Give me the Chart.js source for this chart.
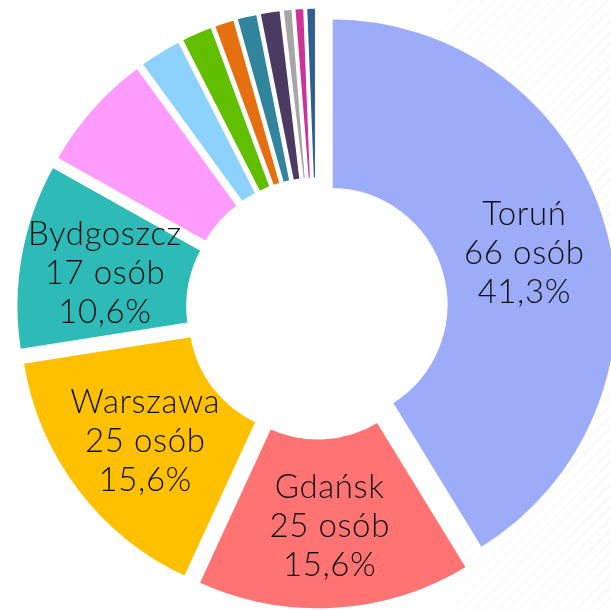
<!DOCTYPE html>
<html>
<head>
<meta charset="utf-8">
<script src="https://cdn.jsdelivr.net/npm/chart.js@4"></script>
<style>
  html, body { margin: 0; padding: 0; background: #ffffff; }
  #wrap { position: relative; width: 611px; height: 610px; overflow: hidden; background: #ffffff; }
  #tex { position: absolute; left: 0; top: 0; width: 611px; height: 610px;
    background: repeating-linear-gradient(135deg, rgba(0,0,0,0) 0px, rgba(0,0,0,0) 5px, rgba(0,0,0,0.035) 6px, rgba(0,0,0,0) 8px);
    -webkit-mask-image: linear-gradient(to right, transparent 62%, black 100%);
    mask-image: linear-gradient(to right, transparent 62%, black 100%); }
  canvas { position: absolute; left: 0; top: 0; }
</style>
</head>
<body>
<div id="wrap">
  <div id="tex"></div>
  <canvas id="c" width="611" height="610"></canvas>
</div>
<script>
const categories = ['Toruń', 'Gdańsk', 'Warszawa', 'Bydgoszcz', 'Inne 1', 'Inne 2', 'Inne 3', 'Inne 4', 'Inne 5', 'Inne 6', 'Inne 7', 'Inne 8', 'Inne 9'];
const persons = [66, 25, 25, 17, 11, 4, 3, 2, 2, 2, 1, 1, 1];
const colors = ['#9DACF9', '#FF7373', '#FFC000', '#2EBAB6', '#FF9BFC', '#8DD2FF', '#62BF00', '#E5700F', '#31849B', '#4B3A61', '#A6A6A6', '#CC3399', '#2E5E92'];
const labelledCount = 4;
const unit = 'osób';

const EXPLODE = 14.5;
const total = persons.reduce((a, b) => a + b, 0);

const explodePlugin = {
  id: 'explode',
  afterDatasetsUpdate(chart) {
    chart.getDatasetMeta(0).data.forEach(arc => {
      const mid = (arc.startAngle + arc.endAngle) / 2;
      arc.x += Math.cos(mid) * EXPLODE;
      arc.y += Math.sin(mid) * EXPLODE;
    });
  }
};

const labelPlugin = {
  id: 'sliceLabels',
  afterDatasetsDraw(chart) {
    const ctx = chart.ctx;
    const meta = chart.getDatasetMeta(0);
    ctx.save();
    ctx.fillStyle = '#111111';
    ctx.font = '300 33px Lato, "Noto Sans", sans-serif';
    if ('letterSpacing' in ctx) ctx.letterSpacing = '0.6px';
    ctx.textAlign = 'center';
    ctx.textBaseline = 'middle';
    meta.data.forEach((arc, i) => {
      if (i >= labelledCount) return;
      const mid = (arc.startAngle + arc.endAngle) / 2;
      const rho = (arc.innerRadius + arc.outerRadius) / 2;
      const x = arc.x + Math.cos(mid) * rho;
      const y = arc.y + Math.sin(mid) * rho + 3;
      const pct = (persons[i] / total * 100).toFixed(1).replace('.', ',') + '%';
      const lines = [categories[i], persons[i] + ' ' + unit, pct];
      const lh = 39;
      lines.forEach((t, k) => ctx.fillText(t, x, y + (k - 1) * lh));
    });
    ctx.restore();
  }
};

new Chart(document.getElementById('c'), {
  type: 'doughnut',
  data: {
    labels: categories,
    datasets: [{
      data: persons,
      backgroundColor: colors,
      borderColor: '#ffffff',
      borderWidth: 3.5,
      clip: false
    }]
  },
  options: {
    responsive: false,
    animation: false,
    radius: 287,
    cutout: '40%',
    layout: { padding: { left: 23, right: 0, top: 7, bottom: 0 } },
    plugins: { legend: { display: false }, tooltip: { enabled: false } },
    events: []
  },
  plugins: [explodePlugin, labelPlugin]
});
</script>
</body>
</html>
